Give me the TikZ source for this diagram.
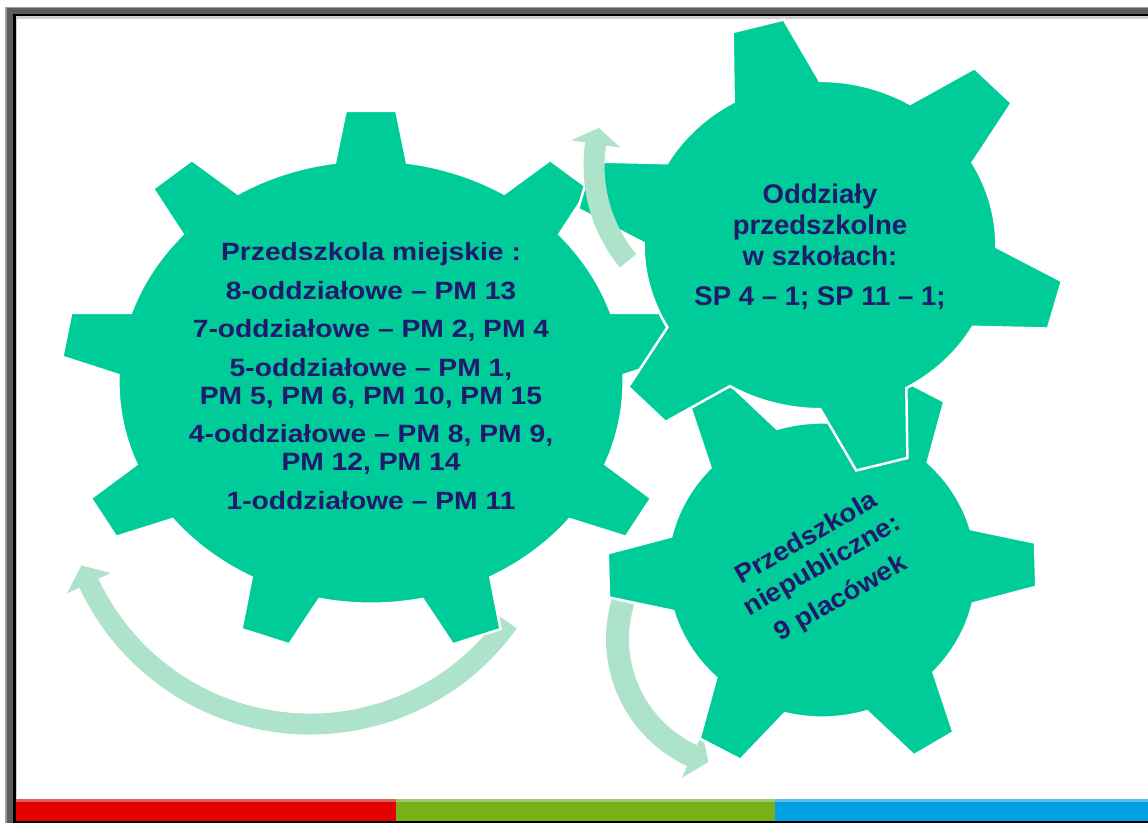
\documentclass[tikz,border=0pt]{standalone}
\usepackage{fontspec}
\newfontfamily\gfa{Liberation Sans}[FakeStretch=1.13]
\newfontfamily\gfb{Liberation Sans}[FakeStretch=1.02]
\newfontfamily\gfc{Liberation Sans}[FakeStretch=1.06]
\definecolor{gearg}{HTML}{00CC99}
\definecolor{arrowg}{HTML}{ADE3CB}
\definecolor{navy}{HTML}{201A6C}
\definecolor{frA}{HTML}{A0A0A0}
\definecolor{frB}{HTML}{5C5C5C}
\definecolor{frC}{HTML}{CFCFCF}
\definecolor{barR}{HTML}{E30000}
\definecolor{barRl}{HTML}{D86060}
\definecolor{barG}{HTML}{7AB017}
\definecolor{barGl}{HTML}{A2C66A}
\definecolor{barB}{HTML}{00A1E4}
\definecolor{barBl}{HTML}{5CBDE6}
\tikzset{
  gearstyle/.style={fill=gearg, draw=white, line width=2.5pt},
  arrowstyle/.style={fill=arrowg},
  gtext/.style={text=navy, align=center, inner sep=0pt}
}
% #1 cx, #2 cy, #3 Rx, #4 Ry, #5 root ratio, #6 teeth, #7 first angle, #8 tip half-angle, #9 root half-angle
\newcommand\gearshape[9]{%
  \begin{scope}[shift={(#1,#2)}]
    \pgfmathsetmacro\gst{360/#6}
    \pgfmathsetmacro\grx{#5*#3}
    \pgfmathsetmacro\gry{#5*#4}
    \filldraw[gearstyle] (#7-#9:\grx pt and \gry pt)
      \foreach \gk [evaluate=\gk as \ga using {#7+(\gk-1)*\gst}] in {1,...,#6}{
        -- (\ga-#8:#3pt and #4pt) -- (\ga+#8:#3pt and #4pt) -- (\ga+#9:\grx pt and \gry pt)
        arc[start angle=\ga+#9, end angle=\ga+\gst-#9, x radius=\grx pt, y radius=\gry pt]
      } -- cycle;
  \end{scope}}
% #1 cx, #2 cy, #3 R, #4 shaft half width, #5 head half width, #6 tail angle, #7 head base angle, #8 tip angle
\newcommand\bentarrow[8]{%
  \begin{scope}[shift={(#1,#2)}]
    \pgfmathsetlengthmacro\ra{(#3+#4)*1pt}
    \pgfmathsetlengthmacro\rb{(#3-#4)*1pt}
    \pgfmathsetlengthmacro\rc{(#3+#5)*1pt}
    \pgfmathsetlengthmacro\rd{(#3-#5)*1pt}
    \pgfmathsetlengthmacro\rm{#3*1pt}
    \fill[arrowstyle] (#6:\ra) arc[start angle=#6, end angle=#7, radius=\ra]
      -- (#7:\rc) -- (#8:\rm) -- (#7:\rd) -- (#7:\rb)
      arc[start angle=#7, end angle=#6, radius=\rb] -- cycle;
  \end{scope}}
\begin{document}
\begin{tikzpicture}[x=1pt,y=1pt]
\useasboundingbox (0,0) rectangle (1148,-823);
\fill[white] (0,0) rectangle (1148,-823);
% frame
\fill[frA] (5,-7) rectangle (1148,-823);
\fill[frB] (7,-8) rectangle (1148,-823);
\fill[black] (13,-13.5) rectangle (1148,-823);
\fill[frC] (15.5,-16) rectangle (1148,-821);
\fill[white] (17,-19) rectangle (1148,-799);
% bottom bar
\fill[barR] (15.5,-799) rectangle (396,-821);
\fill[barG] (396,-799) rectangle (775,-821);
\fill[barB] (775,-799) rectangle (1148,-821);
\fill[barRl] (15.5,-799) rectangle (396,-802);
\fill[barGl] (396,-799) rectangle (775,-802);
\fill[barBl] (775,-799) rectangle (1148,-802);
% arrows behind gears
\bentarrow{310}{-480}{244}{10.5}{24}{-35.7}{-155}{-159.5}
\bentarrow{746}{-639}{128.5}{11.5}{24.5}{163}{245.2}{253}
% gears
\gearshape{371}{-382}{310}{272}{0.815}{9}{90}{4.7}{8.2}
\gearshape{822}{-570}{215}{205}{0.72}{6}{1.5}{6.2}{14.6}
\gearshape{820}{-245}{245}{228}{0.72}{6}{104.7}{6.2}{14.6}
% arrow in front
\bentarrow{743}{-166}{149}{10.5}{25}{219.5}{171.5}{165.2}
% texts
\node[gtext, font={\gfa\bfseries\fontsize{25pt}{28pt}\selectfont}] (miejskie) at (371,-376)
  {Przedszkola miejskie :\\[10.5pt]
   8-oddziałowe – PM 13\\[10.5pt]
   7-oddziałowe – PM 2, PM 4\\[10.5pt]
   5-oddziałowe – PM 1,\\
   PM 5, PM 6, PM 10, PM 15\\[10.5pt]
   4-oddziałowe – PM 8, PM 9,\\
   PM 12, PM 14\\[10.5pt]
   1-oddziałowe – PM 11};
\node[gtext, font={\gfb\bfseries\fontsize{27pt}{31pt}\selectfont}] (oddzialy) at (820,-246.3)
  {Oddziały\\przedszkolne\\w szkołach:\\[9pt]SP 4 – 1; SP 11 – 1;};
\node[gtext, rotate=30, font={\gfc\bfseries\fontsize{26pt}{31.5pt}\selectfont}] (niepubliczne) at (824,-569)
  {Przedszkola\\niepubliczne:\\[6pt]9 placówek};
\end{tikzpicture}
\end{document}
